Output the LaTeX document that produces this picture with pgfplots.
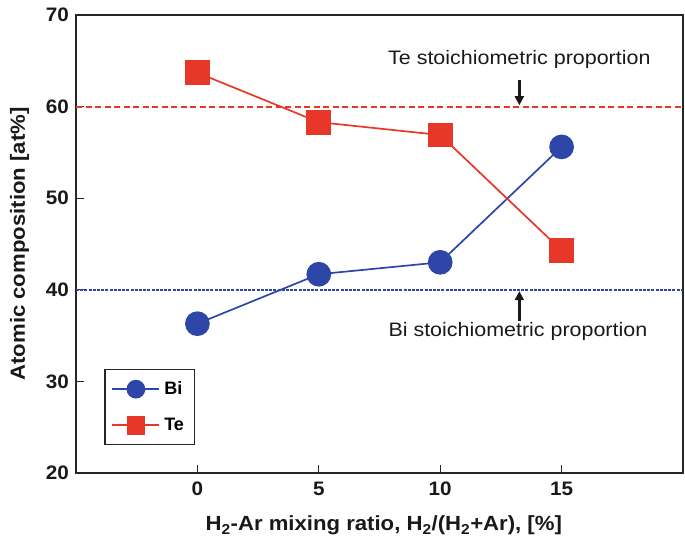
\documentclass[border=0pt]{standalone}
\usepackage{pgfplots}
\pgfplotsset{compat=1.18}
\usetikzlibrary{arrows.meta}
\usepackage{fontspec}
\setmainfont{Liberation Sans}
\newfontfamily\annfont{Liberation Sans}[FakeStretch=1.1]
\newfontfamily\tickfont{Liberation Sans}[FakeStretch=1.06]
\newfontfamily\labfont{Liberation Sans}[FakeStretch=1.08]
\definecolor{myred}{RGB}{230,55,40}
\definecolor{myblue}{RGB}{45,70,168}
\begin{document}
\begin{tikzpicture}
\begin{axis}[
  at={(76pt,73pt)}, anchor=south west,
  width=607pt, height=458pt, scale only axis,
  xmin=-5, xmax=20, ymin=20, ymax=70,
  xtick={0,5,10,15}, ytick={20,30,40,50,60,70},
  xtick pos=bottom, ytick pos=left,
  tick align=inside, major tick length=8pt,
  axis line style={line width=1.5pt, black!85},
  every tick/.style={line width=1.3pt, black!85},
  /pgf/number format/assume math mode=true,
  ticklabel style={font=\tickfont\fontsize{19.5}{21}\selectfont\bfseries, black!90},
  xticklabel style={yshift=-5.5pt},
  yticklabel style={xshift=-3.5pt},
  xlabel={H\textsubscript{2}-Ar mixing ratio, H\textsubscript{2}/(H\textsubscript{2}+Ar), [\%]},
  ylabel={Atomic composition [at\%]},
  label style={font=\labfont\fontsize{20.5}{22}\selectfont\bfseries, black!90},
  xlabel style={at={(axis description cs:0.507,-0.1266)}, anchor=base},
  ylabel style={at={(axis description cs:-0.093,0.5)}, anchor=center},
  legend style={at={(axis cs:-3.83,31.35)}, anchor=north west, draw=black!85, line width=1.3pt,
    font=\fontsize{18}{20}\selectfont\bfseries, inner xsep=6.5pt, inner ysep=11pt, row sep=19pt,
    nodes={inner xsep=4pt, inner ysep=0pt}},
  legend cell align=left,
  legend image code/.code={
    \draw[#1, mark=none] (0pt,0pt) -- (47pt,0pt);
    \draw[#1, mark size=8.5pt] plot coordinates {(23.5pt,0pt)};
  },
  clip=false,
]
\addplot[myred, line width=1.8pt, dash pattern=on 6pt off 3.5pt, forget plot] coordinates {(-5,60) (20,60)};
\addplot[myblue, line width=1.8pt, dash pattern=on 3pt off 1.2pt, forget plot] coordinates {(-5,40) (20,40)};
\addplot[myblue, line width=1.7pt, mark=*, mark size=11.5pt, mark options={fill=myblue, draw=myblue, solid}]
  coordinates {(0,36.3) (5,41.7) (10,43.0) (15,55.6)};
\addlegendentry{Bi}
\addplot[myred, line width=1.7pt, mark=square*, mark size=11.5pt, mark options={fill=myred, draw=myred, solid}]
  coordinates {(0,63.7) (5,58.3) (10,56.9) (15,44.3)};
\addlegendentry{Te}
\draw[-{Triangle[length=9pt,width=9pt]}, line width=2.3pt, black!90] (axis cs:13.26,62.9) -- (axis cs:13.26,60.15);
\draw[-{Triangle[length=9pt,width=9pt]}, line width=2.3pt, black!90] (axis cs:13.26,36.6) -- (axis cs:13.26,39.85);
\node[font=\annfont\fontsize{19.5}{21}\selectfont, black!90] at (axis cs:13.26,65.1) {Te stoichiometric proportion};
\node[font=\annfont\fontsize{19.5}{21}\selectfont, black!90] at (axis cs:13.2,35.4) {Bi stoichiometric proportion};
\end{axis}
\pgfresetboundingbox
\useasboundingbox (0,0) rectangle (685pt,546pt);
\end{tikzpicture}
\end{document}
